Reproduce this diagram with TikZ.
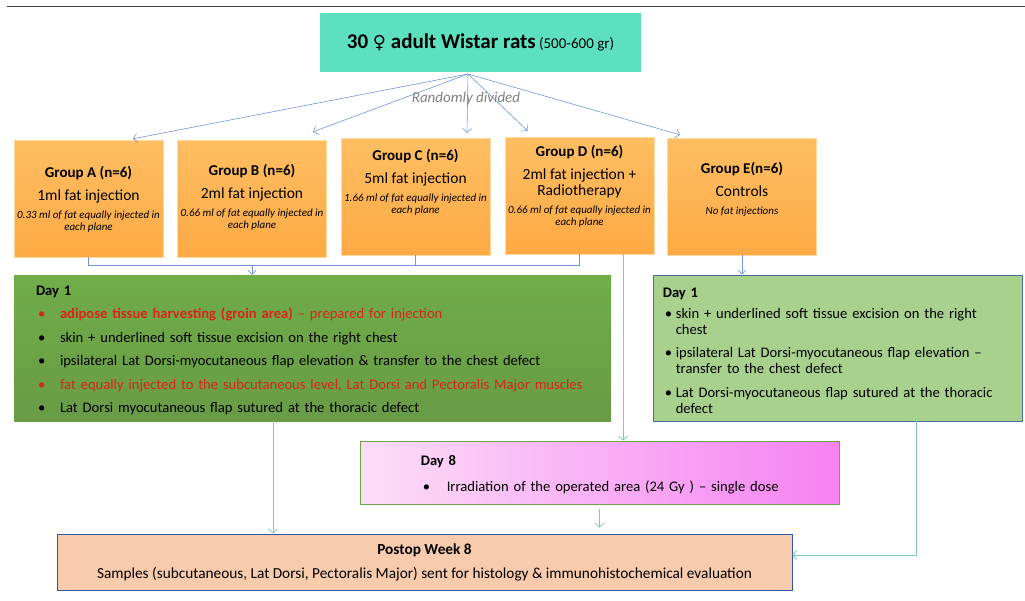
\documentclass[tikz,border=0pt]{standalone}
\usepackage{fontspec}
\setmainfont{Carlito}
\newfontfamily\symbolfont{DejaVu Sans}
\usetikzlibrary{arrows.meta,positioning,calc}
\definecolor{ratteal}{HTML}{5DE0BF}
\definecolor{grptop}{HTML}{FEBE62}
\definecolor{grpbot}{HTML}{FDAA44}
\definecolor{daygreen}{HTML}{70AD47}
\definecolor{daygreendk}{HTML}{699B46}
\definecolor{ctrlgreen}{HTML}{A9D18E}
\definecolor{ctrlborder}{HTML}{4A6E9C}
\definecolor{pinklight}{HTML}{FCDDF8}
\definecolor{pinkdark}{HTML}{F682F2}
\definecolor{pinkborder}{HTML}{6FA34A}
\definecolor{postfill}{HTML}{F8CBAD}
\definecolor{postborder}{HTML}{3058A0}
\definecolor{splitblue}{HTML}{7394DA}
\definecolor{flowteal}{HTML}{7CCBB6}
\definecolor{txtred}{HTML}{D9231C}
\definecolor{notegray}{HTML}{7F7F7F}
\hyphenpenalty=10000
\exhyphenpenalty=10000

% bullet list used in the day boxes
\newenvironment{daylist}[2]{\begin{list}{\textbullet}{\leftmargin=#1\labelwidth=\dimexpr#1-2pt\relax
  \labelsep=0pt\itemindent=0pt\topsep=#2\partopsep=0pt\parsep=0pt\itemsep=7.5pt
  \def\makelabel##1{##1\hfil}}}{\end{list}}

\begin{document}
\begin{tikzpicture}[
    x=1pt, y=-1pt,
    font=\fontsize{14.6}{16}\selectfont,
    ratbox/.style={fill=ratteal, minimum width=321pt, minimum height=59pt, inner sep=0pt},
    grpbox/.style={top color=grptop, bottom color=grpbot, draw=grptop!60!white, line width=0.4pt,
                   minimum width=149pt, minimum height=117pt, inner sep=0pt},
    grptext/.style={text width=149pt, align=flush center, inner sep=0pt},
    daytext/.style={align=left, inner sep=0pt, yshift=-2.5pt},
    split/.style={draw=splitblue, line width=0.6pt, -{Straight Barb[length=4pt,width=9pt]}},
    link/.style={draw=splitblue, line width=0.6pt},
    linkarrow/.style={link, -{Straight Barb[length=4pt,width=8pt]}},
    flow/.style={draw=flowteal, line width=0.8pt, -{Straight Barb[length=4pt,width=9pt]}},
]
\useasboundingbox (0,0) rectangle (1025,600);
\draw[line width=1.3pt, black!75] (7,6.5) -- (1025,6.5);

% rats and groups
\node[ratbox] (rats) at (480.5,42.5)
    {{\bfseries\fontsize{21}{24}\selectfont 30 {\symbolfont\mdseries\fontsize{18}{20}\selectfont ♀} adult Wistar rats}
     {\fontsize{15}{18}\selectfont (500-600 gr)}};
\coordinate (split) at (468,74);

\node[grpbox] (grpA) at (88.5,198.5) {};
\node[grpbox] (grpB) at (252,198.5) {};
\node[grpbox] (grpC) at (415.5,196.5) {};
\node[grpbox] (grpD) at (579.5,195.5) {};
\node[grpbox] (grpE) at (742,196.5) {};

\newcommand{\grphead}[1]{{\bfseries\fontsize{15}{16}\selectfont #1\par}\vspace{7pt}}
\newcommand{\grpmain}[1]{{\fontsize{15.5}{16}\selectfont #1\par}\vspace{7pt}}
\newcommand{\grpnote}[1]{{\itshape\fontsize{11}{11.5}\selectfont #1\par}}

\node[grptext, below=26pt of grpA.north] (grpAtxt)
    {\grphead{Group A (n=6)}\grpmain{1ml fat injection}\grpnote{0.33 ml of fat equally injected in each plane}};
\node[grptext, below=24pt of grpB.north] (grpBtxt)
    {\grphead{Group B (n=6)}\grpmain{2ml fat injection}\grpnote{0.66 ml of fat equally injected in each plane}};
\node[grptext, below=11pt of grpC.north] (grpCtxt)
    {\grphead{Group C (n=6)}\grpmain{5ml fat injection}\grpnote{1.66 ml of fat equally injected in each plane}};
\node[grptext, below=8pt of grpD.north] (grpDtxt)
    {\grphead{Group D (n=6)}\grpmain{2ml fat injection +\\ Radiotherapy}\grpnote{0.66 ml of fat equally injected in each plane}};
\node[grptext, below=24pt of grpE.north] (grpEtxt)
    {\grphead{Group E(n=6)}\grpmain{Controls}\grpnote{No fat injections}};

\foreach \g/\dx/\dy in {A/44.5/1, B/61/8, C/51.5/5, D/-52/6, E/-62/3}
    \draw[split] (split) -- ([xshift=\dx pt, yshift=\dy pt]grp\g.north);
\node[font=\itshape\fontsize{15}{17}\selectfont, text=notegray, inner sep=0pt] (rand) at (466,98) {Randomly divided};

% day 1
\node[top color=daygreen, bottom color=daygreendk, minimum width=597pt, minimum height=146pt, inner sep=0pt] (day1L) at (312.5,348) {};
\node[daytext, text width=565pt, right=22pt of day1L.west] (day1Ltxt)
    {\textbf{Day 1}
     \begin{daylist}{24pt}{7pt}
     \item[\textcolor{txtred}{\textbullet}] \textcolor{txtred}{\textbf{adipose tissue harvesting (groin area)} – prepared for injection}
     \item skin + underlined soft tissue excision on the right chest
     \item ipsilateral Lat Dorsi-myocutaneous flap elevation \& transfer to the chest defect
     \item[\textcolor{txtred}{\textbullet}] \textcolor{txtred}{fat equally injected to the subcutaneous level, Lat Dorsi and Pectoralis Major muscles}
     \item Lat Dorsi myocutaneous flap sutured at the thoracic defect
     \end{daylist}};

\node[fill=ctrlgreen, draw=ctrlborder, line width=0.8pt, minimum width=369pt, minimum height=146pt, inner sep=0pt] (day1R) at (837.5,348) {};
\node[daytext, text width=340pt, right=10pt of day1R.west] (day1Rtxt)
    {\textbf{Day 1}
     \begin{daylist}{13pt}{5pt}
     \item skin + underlined soft tissue excision on the right chest
     \item ipsilateral Lat Dorsi-myocutaneous flap elevation – transfer to the chest defect
     \item Lat Dorsi-myocutaneous flap sutured at the thoracic defect
     \end{daylist}};

% day 8 and week 8
\node[left color=pinklight, right color=pinkdark, draw=pinkborder, line width=0.8pt, minimum width=479pt, minimum height=63pt, inner sep=0pt] (day8) at (599.5,472.5) {};
\node[daytext, text width=400pt, right=61pt of day8.west] (day8txt)
    {\textbf{Day 8}
     \begin{daylist}{26pt}{10pt}
     \item Irradiation of the operated area (24 Gy ) – single dose
     \end{daylist}};

\node[fill=postfill, draw=postborder, line width=0.8pt, minimum width=735pt, minimum height=56pt, inner sep=0pt, align=center,
      font=\fontsize{15.3}{16}\selectfont] (postop) at (424.5,562)
    {\textbf{Postop Week 8}\\[8pt] Samples (subcutaneous, Lat Dorsi, Pectoralis Major) sent for histology \& immunohistochemical evaluation};

% connectors
\coordinate (join) at ([yshift=-8pt]grpB.south);
\draw[link] (grpA.south) |- (join) -| (grpD.south);
\draw[link] (grpC.south) -- (grpC.south |- join);
\draw[linkarrow] (join) -- (join |- day1L.north);
\draw[linkarrow] (grpE.south) -- (grpE.south |- day1R.north);

\coordinate (dout) at ($(grpD.south)+(43.5,0)$);
\coordinate (lout) at ($(day1L.south)+(-39.5,0)$);
\coordinate (rout) at ($(day1R.south)+(78.5,0)$);
\draw[flow] (dout) -- (dout |- day8.north);
\draw[flow] (lout) -- (lout |- postop.north);
\draw[flow] ($(day8.south)+(0,5)$) -- ($(day8.south |- postop.north)+(0,-6)$);
\draw[flow] (rout) |- ($(postop.east)+(0,-7)$);
\end{tikzpicture}
\end{document}
